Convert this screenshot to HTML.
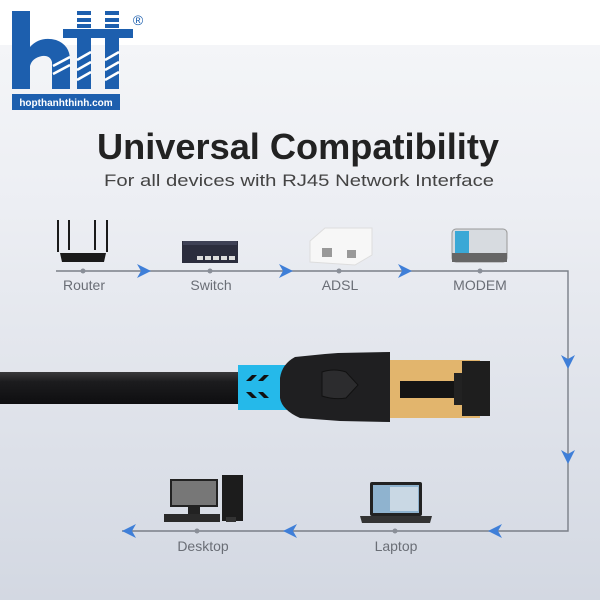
<!DOCTYPE html>
<html><head><meta charset="utf-8"><style>
html,body{margin:0;padding:0;width:600px;height:600px;overflow:hidden;font-family:"Liberation Sans",sans-serif}
</style></head><body>
<svg width="600" height="600" viewBox="0 0 600 600" xmlns="http://www.w3.org/2000/svg" font-family="Liberation Sans, sans-serif">
<defs>
<linearGradient id="bg" x1="0" y1="0" x2="0" y2="1">
<stop offset="0" stop-color="#f6f7f9"/><stop offset="0.35" stop-color="#eceef3"/><stop offset="1" stop-color="#d3d8e2"/>
</linearGradient>
<linearGradient id="cab" x1="0" y1="0" x2="0" y2="1">
<stop offset="0" stop-color="#3a3a3c"/><stop offset="0.3" stop-color="#1c1c1e"/><stop offset="1" stop-color="#0e0e10"/>
</linearGradient>
</defs>
<rect width="600" height="600" fill="url(#bg)"/>
<rect width="600" height="45" fill="#ffffff"/>
<g fill="#1d5fae">
<rect x="12" y="11" width="18" height="78"/>
<path d="M30 47 Q40 36 56 40 Q70 45 70 60 L70 89 L52 89 L52 62 Q50 55 42 56 Q32 58 30 66 Z"/>
<rect x="63" y="29" width="70" height="9"/>
<rect x="77" y="11" width="14" height="4"/><rect x="77" y="18" width="14" height="4"/><rect x="77" y="24" width="14" height="4"/>
<rect x="105" y="11" width="14" height="4"/><rect x="105" y="18" width="14" height="4"/><rect x="105" y="24" width="14" height="4"/>
<rect x="77" y="38" width="14" height="51"/><rect x="105" y="38" width="14" height="51"/>
<rect x="12" y="94" width="108" height="16"/>
</g>
<g stroke="#fff" stroke-width="2.5">
<line x1="53" y1="66" x2="70" y2="57"/><line x1="53" y1="74" x2="70" y2="65"/>
<line x1="77" y1="60" x2="91" y2="52"/><line x1="77" y1="70" x2="91" y2="62"/><line x1="77" y1="80" x2="91" y2="72"/>
<line x1="105" y1="60" x2="119" y2="52"/><line x1="105" y1="70" x2="119" y2="62"/><line x1="105" y1="80" x2="119" y2="72"/>
</g>
<text x="66" y="106" font-size="10" font-weight="bold" fill="#fff" text-anchor="middle">hopthanhthinh.com</text>
<text x="138" y="25" font-size="14" fill="#1d5fae" text-anchor="middle">®</text>
<text x="298" y="159" font-size="36" font-weight="bold" fill="#222" text-anchor="middle" textLength="402" lengthAdjust="spacingAndGlyphs">Universal Compatibility</text>
<text x="299" y="186" font-size="17" fill="#444" text-anchor="middle" textLength="390" lengthAdjust="spacingAndGlyphs">For all devices with RJ45 Network Interface</text>
<g stroke="#7a7f88" stroke-width="1.4" fill="none">
<polyline points="56,271 568,271 568,531 122,531"/>
</g>
<g fill="#8a8f98">
<circle cx="83" cy="271" r="2.5"/><circle cx="210" cy="271" r="2.5"/><circle cx="339" cy="271" r="2.5"/><circle cx="480" cy="271" r="2.5"/>
<circle cx="197" cy="531" r="2.5"/><circle cx="395" cy="531" r="2.5"/>
</g>
<g fill="#3f7fd8">
<path d="M137 264 L151 271 L137 278 L141 271Z"/>
<path d="M279 264 L293 271 L279 278 L283 271Z"/>
<path d="M398 264 L412 271 L398 278 L402 271Z"/>
<path d="M561 355 L568 369 L575 355 L568 359Z"/>
<path d="M561 450 L568 464 L575 450 L568 454Z"/>
<path d="M502 524 L488 531 L502 538 L498 531Z"/>
<path d="M297 524 L283 531 L297 538 L293 531Z"/>
<path d="M136 524 L122 531 L136 538 L132 531Z"/>
</g>
<g font-size="14" fill="#6a6e76" text-anchor="middle">
<text x="84" y="290">Router</text><text x="211" y="290">Switch</text><text x="340" y="290">ADSL</text><text x="480" y="290">MODEM</text>
<text x="203" y="551">Desktop</text><text x="396" y="551">Laptop</text>
</g>
<g fill="#1a1a1a">
<rect x="57" y="220" width="2" height="32"/><rect x="68" y="220" width="2" height="30"/><rect x="94" y="220" width="2" height="30"/><rect x="106" y="220" width="2" height="32"/>
<path d="M60 253 L106 253 L104 262 L62 262Z"/>
</g>
<rect x="182" y="241" width="56" height="22" fill="#2b2d3d"/>
<rect x="183" y="241" width="54" height="4" fill="#3e4155"/>
<g fill="#ddd"><rect x="197" y="256" width="6" height="4"/><rect x="205" y="256" width="6" height="4"/><rect x="213" y="256" width="6" height="4"/><rect x="221" y="256" width="6" height="4"/><rect x="229" y="256" width="6" height="4"/></g>
<path d="M310 241 L325 228 L372 228 L372 255 L355 265 L310 262Z" fill="#f7f7f7" stroke="#ddd"/>
<rect x="322" y="248" width="10" height="9" fill="#999"/><rect x="347" y="250" width="9" height="8" fill="#999"/>
<rect x="452" y="229" width="55" height="33" rx="4" fill="#d7dbe0" stroke="#999"/>
<rect x="455" y="231" width="14" height="22" fill="#3aa8d6"/>
<rect x="452" y="253" width="55" height="9" fill="#666"/>
<rect x="0" y="372" width="240" height="32" fill="url(#cab)"/>
<path d="M238 365 L290 365 L290 410 L238 410Z" fill="#25b9ea"/>
<g fill="#111">
<path d="M246 381 L252 375 L257 375 L251 381Z"/><path d="M258 381 L264 375 L269 375 L263 381Z"/>
<path d="M246 392 L252 398 L257 398 L251 392Z"/><path d="M258 392 L264 398 L269 398 L263 392Z"/>
</g>
<path d="M390 360 L480 360 L480 418 L390 418Z" fill="#e2b56d"/>
<rect x="400" y="381" width="65" height="17" fill="#141414"/>
<rect x="454" y="373" width="12" height="32" fill="#222"/>
<rect x="462" y="361" width="28" height="55" fill="#1e1e1e"/>
<path d="M280 378 Q282 364 295 357 L325 354 L338 353 L390 352 L390 422 L340 421 L300 418 Q282 410 280 398Z" fill="#1f1f21"/>
<path d="M322 372 Q334 368 346 372 L358 385 L346 398 Q334 400 322 396Z" fill="#2c2c2e" stroke="#111"/>
<rect x="370" y="482" width="52" height="34" rx="2" fill="#222"/>
<rect x="373" y="485" width="46" height="28" fill="#8fb3cf"/>
<rect x="390" y="487" width="28" height="24" fill="#c9d8e4"/>
<path d="M360 516 L432 516 L430 523 L362 523Z" fill="#333"/>
<rect x="170" y="479" width="48" height="28" fill="#222"/>
<rect x="172" y="481" width="44" height="24" fill="#777"/>
<rect x="188" y="507" width="12" height="8" fill="#222"/>
<rect x="164" y="514" width="56" height="8" fill="#2a2a2a"/>
<rect x="222" y="475" width="21" height="46" fill="#1c1c1c"/>
<rect x="226" y="517" width="10" height="5" fill="#333"/>
</svg>
</body></html>
